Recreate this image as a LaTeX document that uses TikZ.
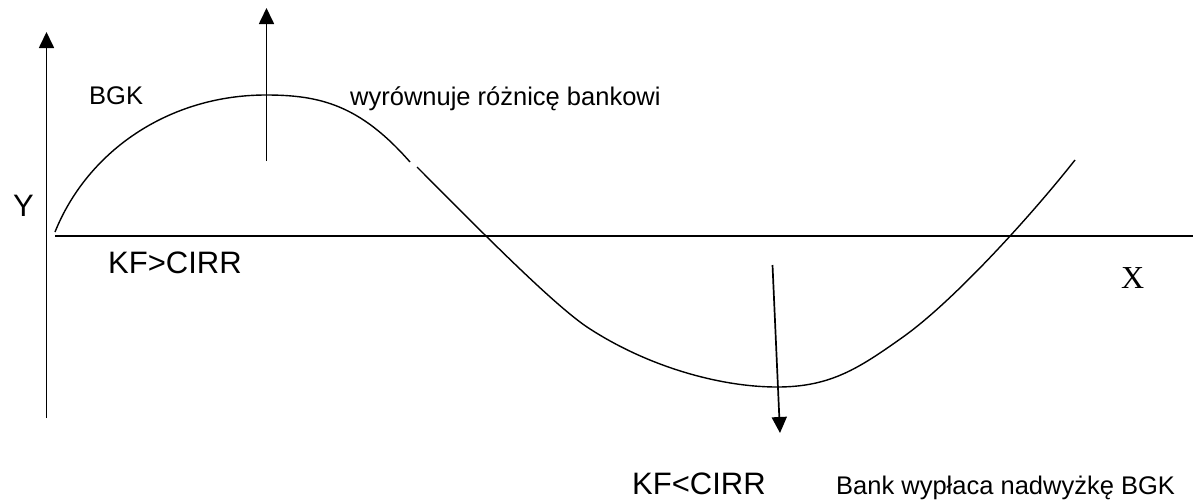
\documentclass[tikz,border=0pt]{standalone}
\usepackage{fontspec}
\setmainfont{Liberation Sans}
\newfontfamily\serifx{Liberation Serif}
\usetikzlibrary{arrows.meta}
\tikzset{
  axisline/.style={line width=1.7pt},
  arr/.style={line width=1.7pt, -{Triangle[length=16pt,width=15pt]}},
  curveline/.style={line width=1.4pt},
  lbl/.style={inner sep=0pt, anchor=base west},
  bigtxt/.style={lbl, font=\fontsize{31}{36}\selectfont},
  smalltxt/.style={lbl, font=\fontsize{25.5}{30}\selectfont},
}
\begin{document}
\begin{tikzpicture}[x=1pt,y=-1pt]
\useasboundingbox (0,0) rectangle (1193,501);
% axes
\coordinate (ybot) at (46.5,418);
\coordinate (ytop) at (46.5,32);
\coordinate (xl) at (55,236);
\coordinate (xr) at (1193,236);
\draw[arr] (ybot) -- (ytop);
\draw[axisline] (xl) -- (xr);
% arrows
\coordinate (ua) at (266.5,161);
\coordinate (ub) at (266.5,8);
\draw[arr] (ua) -- (ub);
\coordinate (da) at (772.5,265);
\coordinate (db) at (780,433);
\draw[arr] (da) -- (db);
% curve
\coordinate (c0) at (55,232);
\coordinate (c1) at (266,95);
\coordinate (c2) at (410,162);
\coordinate (c3) at (417,167);
\coordinate (c4) at (587,327);
\coordinate (c5) at (777,387);
\coordinate (c6) at (903,337);
\coordinate (c7) at (1075,160);
\draw[curveline] (c0) .. controls (88,150) and (170,95) .. (c1)
  .. controls (320,95) and (360,105) .. (c2);
\draw[curveline] (c3) .. controls (470,220) and (550,302) .. (c4)
  .. controls (647,366.6) and (720,387) .. (c5)
  .. controls (830,387) and (858,369) .. (c6)
  .. controls (953,301.5) and (1030,217) .. (c7);
% labels
\node[bigtxt] (ylab) at (13,216) {Y};
\node[smalltxt] (bgk) at (89,104) {BGK};
\node[smalltxt] (wyr) at (350,105) {wyrównuje różnicę bankowi};
\node[bigtxt] (kfg) at (108,273) {KF>CIRR};
\node[lbl, font=\serifx\fontsize{32}{36}\selectfont] (xlab) at (1121,288) {X};
\node[bigtxt] (kfl) at (632,494) {KF<CIRR};
\node[smalltxt] (bank) at (836,494) {Bank wypłaca nadwyżkę BGK};
\end{tikzpicture}
\end{document}
